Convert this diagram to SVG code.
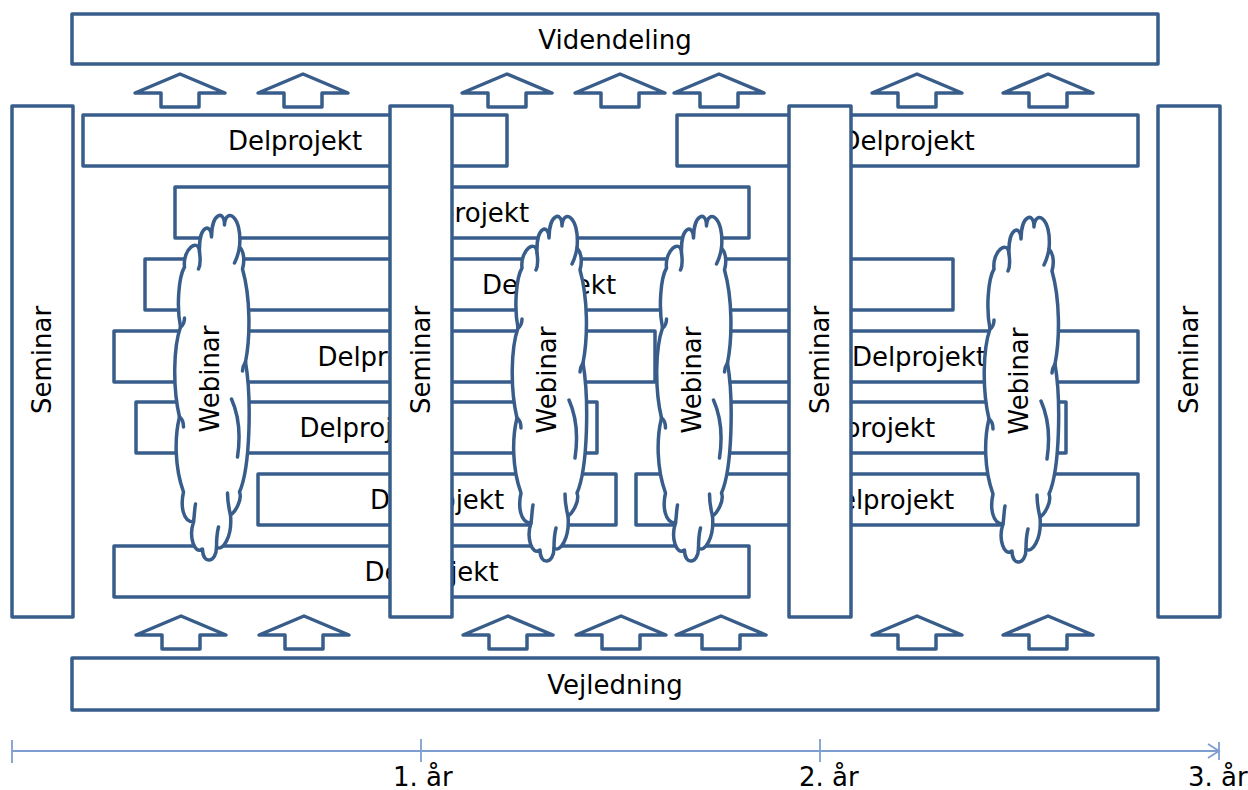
<svg xmlns="http://www.w3.org/2000/svg" xmlns:xlink="http://www.w3.org/1999/xlink" width="1248" height="790" viewBox="0 0 1248 790">
<style>
.b{fill:#fff;stroke:#385D8A;stroke-width:3.5;stroke-linejoin:round}
.in{fill:none;stroke:#385D8A;stroke-width:3.5;stroke-linecap:round}
.t{font-family:"DejaVu Sans",sans-serif;font-size:26px;fill:#000;text-anchor:middle}
.tl{font-family:"DejaVu Sans",sans-serif;font-size:26px;fill:#000}
.ax{fill:none;stroke:#7F9ED0;stroke-width:1.8}
</style>
<defs>
<path id="cloudShape" class="b" d="M -26 -120 C -28 -138 -12 -150 -11 -135 C -12 -163 1 -164 1 -150 C 1 -174 14 -178 14 -162 C 15 -180 32 -172 29 -140 C 34 -135 34 -125 32 -118 C 40 -90 40 -50 35 -25 C 41 10 40 80 29 105 C 32 112 25 125 20 128 C 22 150 12 165 6 160 C 6 176 -8 178 -8 162 C -16 168 -22 150 -17 135 C -28 135 -30 118 -27 105 C -36 80 -36 50 -31 30 C -38 0 -37 -40 -30 -60 C -34 -80 -32 -110 -26 -120 Z"/>
<path id="cloudInner" class="in" d="M -11 -135 C -10 -128 -10 -122 -12 -118 M 29 -140 C 28 -134 26 -128 24 -124 M 21 12 C 29 30 30 50 27 70 M 35 -25 C 33 -22 32 -19 32 -16 M -31 30 C -28 32 -27 36 -27 40 M -30 -60 C -27 -62 -26 -65 -26 -69 M 20 128 C 18 120 17 112 17 106 M -17 135 C -16 128 -16 122 -15 117 M 6 160 C 6 150 7 144 8 140"/>
<g id="cloud"><use xlink:href="#cloudShape"/><use xlink:href="#cloudInner"/></g>
<path id="upArrow" class="b" d="M 0 0 L 45 19 L 19 19 L 19 33 L -19 33 L -19 19 L -45 19 Z"/>
</defs>

<g id="videndeling">
<rect class="b" x="72" y="14" width="1086" height="50"/>
<text class="t" x="615" y="48.5">Videndeling</text>
</g>
<g id="vejledning">
<rect class="b" x="72" y="658" width="1086" height="52"/>
<text class="t" x="615" y="693.5">Vejledning</text>
</g>

<g id="connectors">
<use xlink:href="#upArrow" x="180" y="74"/>
<use xlink:href="#upArrow" x="303" y="74"/>
<use xlink:href="#upArrow" x="507" y="74"/>
<use xlink:href="#upArrow" x="620" y="74"/>
<use xlink:href="#upArrow" x="719" y="74"/>
<use xlink:href="#upArrow" x="917" y="74"/>
<use xlink:href="#upArrow" x="1048" y="74"/>
<use xlink:href="#upArrow" x="181" y="616"/>
<use xlink:href="#upArrow" x="304" y="616"/>
<use xlink:href="#upArrow" x="508" y="616"/>
<use xlink:href="#upArrow" x="621" y="616"/>
<use xlink:href="#upArrow" x="721" y="616"/>
<use xlink:href="#upArrow" x="917" y="616"/>
<use xlink:href="#upArrow" x="1048" y="616"/>
</g>

<g id="delprojekt1"><rect class="b" x="83" y="115" width="424" height="51"/><text class="t" x="295" y="150">Delprojekt</text></g>
<g id="delprojekt2"><rect class="b" x="677" y="115" width="461" height="51"/><text class="t" x="907.5" y="150">Delprojekt</text></g>
<g id="delprojekt3"><rect class="b" x="175" y="187" width="574" height="51"/><text class="t" x="462" y="222">Delprojekt</text></g>
<g id="delprojekt4"><rect class="b" x="145" y="259" width="808" height="51"/><text class="t" x="549" y="294">Delprojekt</text></g>
<g id="delprojekt5"><rect class="b" x="114" y="331" width="541" height="51"/><text class="t" x="384.5" y="366">Delprojekt</text></g>
<g id="delprojekt6"><rect class="b" x="700" y="331" width="438" height="51"/><text class="t" x="919" y="366">Delprojekt</text></g>
<g id="delprojekt7"><rect class="b" x="136" y="402" width="461" height="51"/><text class="t" x="366.5" y="437">Delprojekt</text></g>
<g id="delprojekt8"><rect class="b" x="670" y="402" width="396" height="51"/><text class="t" x="868" y="437">Delprojekt</text></g>
<g id="delprojekt9"><rect class="b" x="258" y="474" width="358" height="51"/><text class="t" x="437" y="509">Delprojekt</text></g>
<g id="delprojekt10"><rect class="b" x="636" y="474" width="502" height="51"/><text class="t" x="887" y="509">Delprojekt</text></g>
<g id="delprojekt11"><rect class="b" x="114" y="546" width="635" height="51"/><text class="t" x="431.5" y="581">Delprojekt</text></g>

<g id="seminar1"><rect class="b" x="12" y="106" width="61" height="511"/><text class="t" x="42" y="369" transform="rotate(-90 42 360)">Seminar</text></g>
<g id="seminar2"><rect class="b" x="390" y="106" width="62" height="511"/><text class="t" x="421" y="369" transform="rotate(-90 421 360)">Seminar</text></g>
<g id="seminar3"><rect class="b" x="789" y="106" width="62" height="511"/><text class="t" x="820" y="369" transform="rotate(-90 820 360)">Seminar</text></g>
<g id="seminar4"><rect class="b" x="1158" y="106" width="62" height="511"/><text class="t" x="1189" y="369" transform="rotate(-90 1189 360)">Seminar</text></g>

<g id="webinar1"><use xlink:href="#cloud" x="210.5" y="387"/><text class="t" x="210.5" y="387" transform="rotate(-90 210.5 379)">Webinar</text></g>
<g id="webinar2"><use xlink:href="#cloud" x="548" y="388"/><text class="t" x="548" y="388" transform="rotate(-90 548 380)">Webinar</text></g>
<g id="webinar3"><use xlink:href="#cloud" x="692.5" y="388"/><text class="t" x="692.5" y="388" transform="rotate(-90 692.5 380)">Webinar</text></g>
<g id="webinar4"><use xlink:href="#cloud" x="1020" y="389"/><text class="t" x="1020" y="389" transform="rotate(-90 1020 381)">Webinar</text></g>

<g id="timeline">
<path class="ax" d="M 12 751 H 1219 M 12 740 V 763 M 421 739 V 762 M 820 739 V 762 M 1219 742 V 760 M 1208 744 L 1219 751 L 1208 758"/>
<text class="tl" x="393" y="786">1. år</text>
<text class="tl" x="799" y="786">2. år</text>
<text class="tl" x="1188" y="786">3. år</text>
</g>
</svg>
